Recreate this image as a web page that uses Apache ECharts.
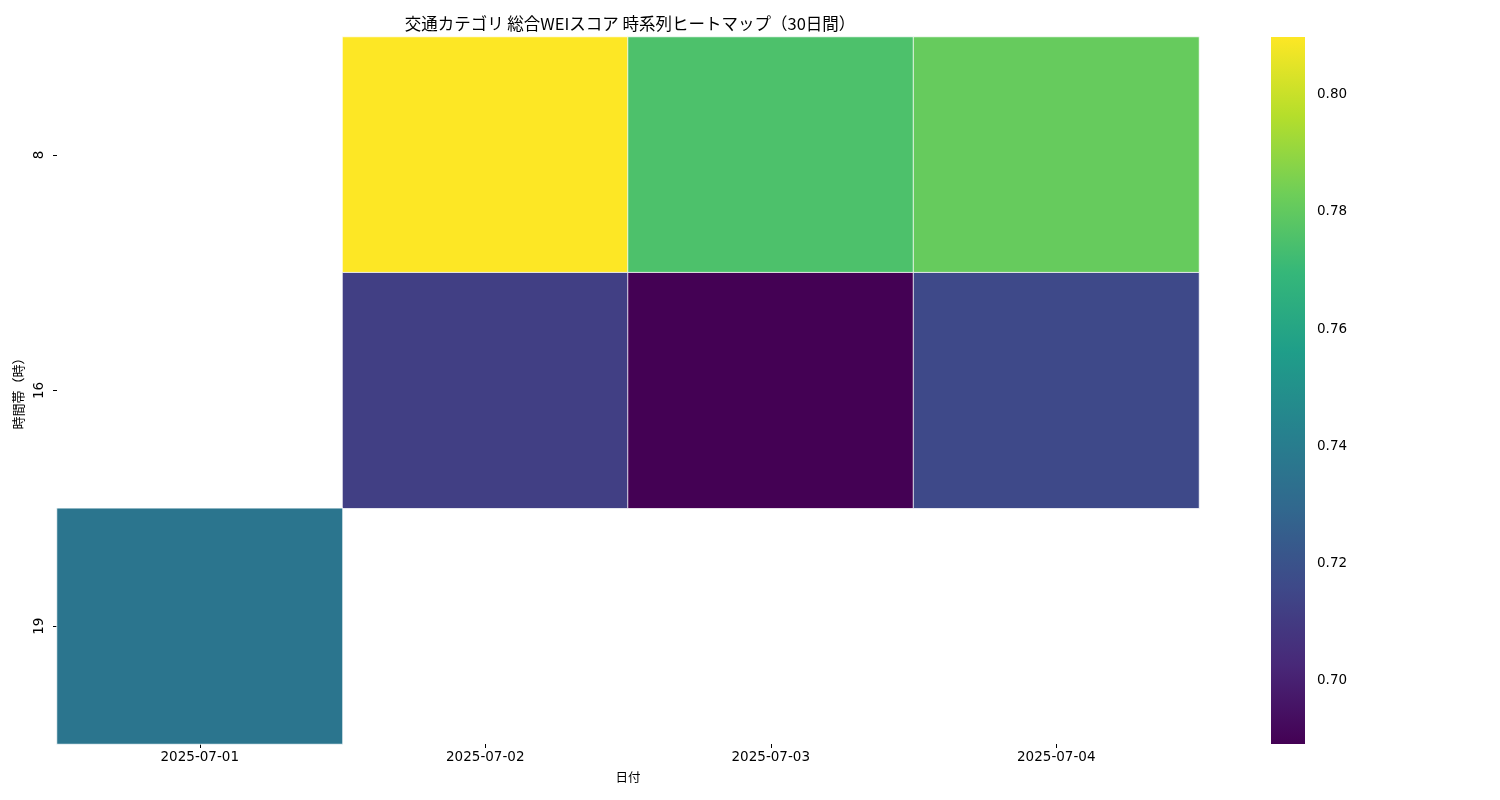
<!DOCTYPE html>
<html>
<head>
<meta charset="utf-8">
<script src="https://cdn.jsdelivr.net/npm/echarts@6/dist/echarts.min.js"></script>
<style>html,body{margin:0;padding:0;background:#fff}#c{width:1500px;height:800px}</style>
</head>
<body>
<div id="c"></div>
<script>
const dates = ['2025-07-01', '2025-07-02', '2025-07-03', '2025-07-04'];
const hours = ['8', '16', '19'];
// [dateIndex, hourIndex, value]  (missing cells omitted)
const cells = [
  [1, 0, 0.8099], [2, 0, 0.7752], [3, 0, 0.7811],
  [1, 1, 0.7119], [2, 1, 0.6891], [3, 1, 0.7159],
  [0, 2, 0.7361]
];
const vMin = 0.6891, vMax = 0.8099;
const cbTicks = [0.70, 0.72, 0.74, 0.76, 0.78, 0.80];
const viridis = ['#440154', '#482878', '#3e4989', '#31688e', '#26828e', '#1f9e89', '#35b779', '#6ece58', '#b5de2b', '#fde725'];

const FONT = '"Noto Sans CJK JP", "Noto Sans", sans-serif';
const NUMFONT = '"DejaVu Sans", "Noto Sans CJK JP", sans-serif';
const chart = echarts.init(document.getElementById('c'), null, {renderer: 'canvas'});

const stops = viridis.map((c, i) => ({offset: 1 - i / (viridis.length - 1), color: c}));

chart.setOption({
  animation: false,
  textStyle: {fontFamily: FONT},
  title: {
    text: '交通カテゴリ 総合WEIスコア 時系列ヒートマップ（30日間）',
    left: 625, top: 10, textAlign: 'center',
    textStyle: {fontFamily: FONT, fontSize: 16.5, fontWeight: 'normal', color: '#000'}
  },
  grid: [
    {left: 57, right: 301, top: 37, bottom: 56},
    {left: 1271, width: 34, top: 37, bottom: 56}
  ],
  xAxis: [
    {
      type: 'category', data: dates, gridIndex: 0,
      axisLine: {show: false},
      axisTick: {show: true, alignWithLabel: true, length: 4, lineStyle: {color: '#000'}},
      axisLabel: {color: '#000', fontSize: 13.5, margin: 7, fontFamily: NUMFONT},
      splitLine: {show: false},
      name: '日付', nameLocation: 'middle', nameGap: 27,
      nameTextStyle: {color: '#000', fontSize: 12.5, fontFamily: FONT}
    },
    {type: 'value', gridIndex: 1, min: 0, max: 1, show: false}
  ],
  yAxis: [
    {
      type: 'category', data: hours, gridIndex: 0, inverse: true,
      axisLine: {show: false},
      axisTick: {show: true, alignWithLabel: true, length: 4, lineStyle: {color: '#000'}},
      axisLabel: {color: '#000', fontSize: 13.5, rotate: 90, margin: 11, fontFamily: NUMFONT},
      splitLine: {show: false},
      name: '時間帯（時）', nameLocation: 'middle', nameGap: 30, nameRotate: 90,
      nameTextStyle: {color: '#000', fontSize: 13, fontFamily: FONT}
    },
    {
      type: 'value', gridIndex: 1, position: 'right', min: vMin, max: vMax,
      axisLine: {show: false},
      axisTick: {show: true, length: 4, customValues: cbTicks, lineStyle: {color: '#000'}},
      axisLabel: {
        show: true, customValues: cbTicks, color: '#000', fontSize: 13.5, margin: 12,
        fontFamily: NUMFONT, formatter: v => v.toFixed(2), padding: [3, 0, 0, 0]
      },
      splitLine: {show: false}
    }
  ],
  visualMap: {
    show: false, type: 'continuous', min: vMin, max: vMax, dimension: 2,
    seriesIndex: 0, inRange: {color: viridis}
  },
  series: [
    {
      type: 'heatmap', xAxisIndex: 0, yAxisIndex: 0, data: cells,
      itemStyle: {borderColor: '#fff', borderWidth: 0.8},
      emphasis: {disabled: true}
    },
    {
      type: 'custom', xAxisIndex: 1, yAxisIndex: 1, data: [[0, vMin, vMax]],
      renderItem: function (params, api) {
        const cs = params.coordSys;
        const top = api.coord([0, api.value(2)]);
        const bot = api.coord([0, api.value(1)]);
        return {
          type: 'rect',
          shape: {x: cs.x, y: top[1], width: cs.width, height: bot[1] - top[1]},
          style: {fill: {type: 'linear', x: 0, y: 0, x2: 0, y2: 1, colorStops: stops}}
        };
      },
      silent: true
    }
  ]
});
</script>
</body>
</html>
